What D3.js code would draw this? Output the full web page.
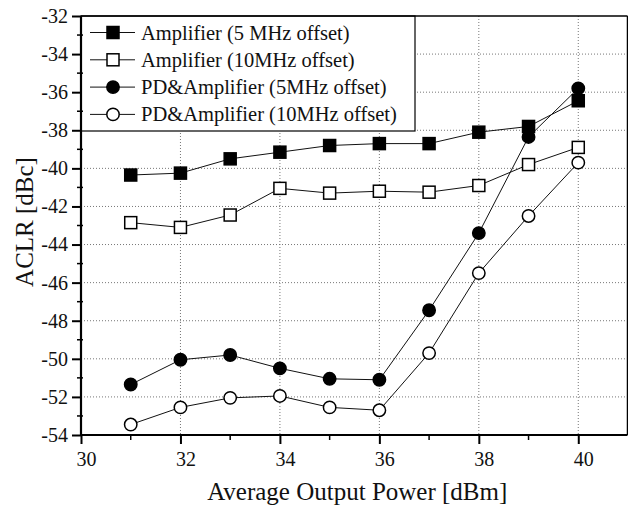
<!DOCTYPE html>
<html>
<head>
<meta charset="utf-8">
<script src="https://cdn.jsdelivr.net/npm/d3@7"></script>
<style>
  html, body { margin: 0; padding: 0; background: #fff; }
  svg { display: block; }
  svg text { font-family: "Liberation Serif", "Times New Roman", serif !important; fill: #111; }
</style>
</head>
<body>
<svg id="chart" width="628" height="513"></svg>
<script>
// ---- data ----
const xValues = [31, 32, 33, 34, 35, 36, 37, 38, 39, 40];
const amp5 = [-40.35, -40.25, -39.5, -39.15, -38.8, -38.7, -38.7, -38.1, -37.8, -36.45];
const amp10 = [-42.85, -43.1, -42.45, -41.05, -41.3, -41.2, -41.25, -40.9, -39.8, -38.9];
const pd5 = [-51.35, -50.05, -49.8, -50.5, -51.05, -51.1, -47.45, -43.4, -38.35, -35.8];
const pd10 = [-53.45, -52.55, -52.05, -51.95, -52.55, -52.7, -49.7, -45.5, -42.5, -39.7];
const seriesNames = [
  "Amplifier (5 MHz offset)",
  "Amplifier (10MHz offset)",
  "PD&Amplifier (5MHz offset)",
  "PD&Amplifier (10MHz offset)"
];
const xTicks = [30, 32, 34, 36, 38, 40];
const xMinorTicks = [31, 33, 35, 37, 39];
const yTicks = [-32, -34, -36, -38, -40, -42, -44, -46, -48, -50, -52, -54];
const yMinorTicks = [-33, -35, -37, -39, -41, -43, -45, -47, -49, -51, -53];
const xTitle = "Average Output Power [dBm]";
const yTitle = "ACLR [dBc]";

// ---- layout ----
const L = 81, R = 627.5, T = 16, B = 435;
const svg = d3.select("#chart");
const x = d3.scaleLinear().domain([30, 41]).range([L, R + 0.5]);
const y = d3.scaleLinear().domain([-54, -32]).range([B, T]);

// grid
const grid = svg.append("g").attr("stroke", "#777").attr("stroke-width", 1)
  .attr("stroke-dasharray", "1,2");
grid.selectAll("line.v").data(xTicks.filter(d => d > 30)).join("line")
  .attr("x1", d => x(d)).attr("x2", d => x(d)).attr("y1", T).attr("y2", B);
grid.selectAll("line.h").data(yTicks.filter(d => d > -54 && d < -32)).join("line")
  .attr("x1", L).attr("x2", R).attr("y1", d => y(d)).attr("y2", d => y(d));

// series
const series = [
  { name: seriesNames[0], vals: amp5, shape: "square", fill: "#000" },
  { name: seriesNames[1], vals: amp10, shape: "square", fill: "#fff" },
  { name: seriesNames[2], vals: pd5, shape: "circle", fill: "#000" },
  { name: seriesNames[3], vals: pd10, shape: "circle", fill: "#fff" }
];
const line = d3.line().x(d => x(d[0])).y(d => y(d[1]));
const drawOrder = [3, 2, 1, 0];
drawOrder.forEach(i => {
  const s = series[i];
  svg.append("path").datum(xValues.map((v, k) => [v, s.vals[k]]))
    .attr("d", line).attr("fill", "none").attr("stroke", "#111").attr("stroke-width", 1);
});
function marker(g, s, cx, cy) {
  if (s.shape === "square") {
    g.append("rect").attr("x", cx - 6).attr("y", cy - 6).attr("width", 12).attr("height", 12)
      .attr("fill", s.fill).attr("stroke", "#000").attr("stroke-width", 1.5);
  } else {
    g.append("circle").attr("cx", cx).attr("cy", cy).attr("r", 6.2)
      .attr("fill", s.fill).attr("stroke", "#000").attr("stroke-width", 1.5);
  }
}
drawOrder.forEach(i => {
  const s = series[i];
  const g = svg.append("g");
  xValues.forEach((v, k) => marker(g, s, x(v), y(s.vals[k])));
});

// legend
const lg = svg.append("g");
lg.append("rect").attr("x", L).attr("y", T).attr("width", 415 - L).attr("height", 131 - T)
  .attr("fill", "#fff").attr("stroke", "#000").attr("stroke-width", 1.2);
series.forEach((s, i) => {
  const cy = 32.5 + i * 27.3;
  lg.append("line").attr("x1", 90).attr("x2", 135).attr("y1", cy).attr("y2", cy)
    .attr("stroke", "#111").attr("stroke-width", 1);
  marker(lg, s, 113, cy);
  lg.append("text").attr("x", 141).attr("y", cy + 7).attr("font-size", 20.5).text(s.name);
});

// frame
svg.append("line").attr("x1", L).attr("x2", R).attr("y1", T).attr("y2", T).attr("stroke", "#000").attr("stroke-width", 1.5);
svg.append("line").attr("x1", R).attr("x2", R).attr("y1", T).attr("y2", B).attr("stroke", "#000").attr("stroke-width", 1.5);

// axes
const fmt = d => String(d);
const yAxis = svg.append("g").attr("transform", `translate(${L},0)`)
  .call(d3.axisLeft(y).tickValues(yTicks).tickFormat(fmt).tickSize(9).tickPadding(4));
const xAxis = svg.append("g").attr("transform", `translate(0,${B})`)
  .call(d3.axisBottom(x).tickValues(xTicks).tickFormat(fmt).tickSize(9).tickPadding(8));
[yAxis, xAxis].forEach(a => {
  a.attr("font-family", null);
  a.select(".domain").attr("stroke", "#000").attr("stroke-width", 2.2);
  a.selectAll(".tick line").attr("stroke", "#000").attr("stroke-width", 2);
  a.selectAll(".tick text")
    .style("font-family", "'Liberation Serif', 'Times New Roman', serif")
    .attr("font-size", 20).attr("fill", "#111");
});
xAxis.selectAll(".tick text").attr("dx", 5);
xAxis.select(".domain").attr("d", `M${L},0H${R}`);
yAxis.select(".domain").attr("d", `M0,${B}V${T}`);
// minor ticks
svg.append("g").selectAll("line").data(yMinorTicks).join("line")
  .attr("x1", L - 4).attr("x2", L + 2).attr("y1", d => y(d)).attr("y2", d => y(d))
  .attr("stroke", "#000").attr("stroke-width", 1.5);
svg.append("g").selectAll("line").data(xMinorTicks).join("line")
  .attr("x1", d => x(d)).attr("x2", d => x(d)).attr("y1", B - 1).attr("y2", B + 5)
  .attr("stroke", "#000").attr("stroke-width", 1.5);

// titles
svg.append("text").attr("x", (L + R) / 2 + 3).attr("y", 500).attr("text-anchor", "middle")
  .attr("font-size", 25).text(xTitle);
svg.append("text").attr("transform", `translate(33,${222}) rotate(-90)`)
  .attr("text-anchor", "middle").attr("font-size", 25).text(yTitle);
</script>
</body>
</html>
